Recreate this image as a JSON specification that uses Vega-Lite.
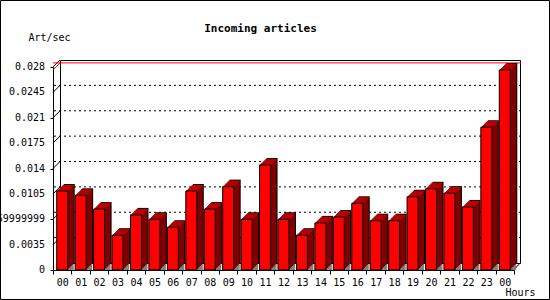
{
  "$schema": "https://vega.github.io/schema/vega-lite/v6.json",
  "width": 461,
  "height": 203,
  "autosize": {"type": "none"},
  "padding": {"left": 53, "top": 67, "right": 36, "bottom": 30},
  "background": "white",
  "title": {"text": "Incoming articles", "font": "DejaVu Sans Mono", "fontSize": 11, "fontWeight": "bold", "color": "#000", "anchor": "middle", "frame": "group", "dx": -23, "offset": 0, "dy": 34},
  "config": {"view": {"stroke": null}},
  "datasets": {
    "bars": [
      {"idx": 0, "hour": "00", "value": 0.0109},
      {"idx": 1, "hour": "01", "value": 0.0103},
      {"idx": 2, "hour": "02", "value": 0.0084},
      {"idx": 3, "hour": "03", "value": 0.0048},
      {"idx": 4, "hour": "04", "value": 0.0076},
      {"idx": 5, "hour": "05", "value": 0.0070},
      {"idx": 6, "hour": "06", "value": 0.0059},
      {"idx": 7, "hour": "07", "value": 0.0109},
      {"idx": 8, "hour": "08", "value": 0.0084},
      {"idx": 9, "hour": "09", "value": 0.0115},
      {"idx": 10, "hour": "10", "value": 0.0070},
      {"idx": 11, "hour": "11", "value": 0.0145},
      {"idx": 12, "hour": "12", "value": 0.0070},
      {"idx": 13, "hour": "13", "value": 0.0048},
      {"idx": 14, "hour": "14", "value": 0.0065},
      {"idx": 15, "hour": "15", "value": 0.0073},
      {"idx": 16, "hour": "16", "value": 0.0092},
      {"idx": 17, "hour": "17", "value": 0.0068},
      {"idx": 18, "hour": "18", "value": 0.0068},
      {"idx": 19, "hour": "19", "value": 0.0101},
      {"idx": 20, "hour": "20", "value": 0.0112},
      {"idx": 21, "hour": "21", "value": 0.0106},
      {"idx": 22, "hour": "22", "value": 0.0087},
      {"idx": 23, "hour": "23", "value": 0.0197},
      {"idx": 24, "hour": "00", "value": 0.0276}
    ],
    "grid": [{"v": 0.0035}, {"v": 0.007}, {"v": 0.0105}, {"v": 0.014}, {"v": 0.0175}, {"v": 0.021}, {"v": 0.0245}],
    "ticks": [
      {"v": 0, "label": "0"},
      {"v": 0.0035, "label": "0.0035"},
      {"v": 0.007, "label": "0.0069999999"},
      {"v": 0.0105, "label": "0.0105"},
      {"v": 0.014, "label": "0.014"},
      {"v": 0.0175, "label": "0.0175"},
      {"v": 0.021, "label": "0.021"},
      {"v": 0.0245, "label": "0.0245"},
      {"v": 0.028, "label": "0.028"}
    ],
    "one": [{}]
  },
  "data": {"name": "bars"},
  "layer": [
    {
      "data": {"name": "one"},
      "mark": {"type": "rect", "fill": null, "stroke": "#000", "strokeWidth": 1, "xOffset": -52.5, "x2Offset": 35.5, "yOffset": -66.5, "y2Offset": 29.5},
      "encoding": {
        "x": {"value": 0}, "x2": {"value": {"expr": "width"}},
        "y": {"value": 0}, "y2": {"value": {"expr": "height"}}
      }
    },
    {
      "data": {"name": "one"},
      "mark": {"type": "rect", "fill": "#ffffff", "stroke": "#000", "strokeWidth": 1, "xOffset": 7.5, "x2Offset": 6.5, "yOffset": -6.5, "y2Offset": -6.5},
      "encoding": {
        "x": {"value": 0}, "x2": {"value": {"expr": "width"}},
        "y": {"value": 0}, "y2": {"value": {"expr": "height"}}
      }
    },
    {
      "data": {"name": "grid"},
      "mark": {"type": "rule", "stroke": "#000", "strokeWidth": 1, "strokeDash": [2, 3], "xOffset": 7, "x2Offset": 6, "yOffset": -7},
      "encoding": {
        "y": {
          "field": "v", "type": "quantitative",
          "scale": {"domain": [0, 0.028], "nice": false},
          "axis": {
            "values": [0, 0.0035, 0.007, 0.0105, 0.014, 0.0175, 0.021, 0.0245, 0.028],
            "labels": false,
            "tickSize": 3, "tickColor": "#000", "domainColor": "#000", "grid": false,
            "title": "Art/sec", "titleFont": "DejaVu Sans Mono", "titleFontSize": 10, "titleFontWeight": "normal", "titleColor": "#000",
            "titleAngle": 0, "titleAlign": "left", "titleBaseline": "middle", "titleX": -25, "titleY": -30
          }
        }
      }
    },
    {
      "data": {"name": "ticks"},
      "mark": {"type": "text", "font": "DejaVu Sans Mono", "fontSize": 10, "fill": "#000", "align": "right", "baseline": "middle", "dx": -8},
      "encoding": {
        "x": {"value": 0},
        "y": {"field": "v", "type": "quantitative"},
        "text": {"field": "label"}
      }
    },
    {
      "data": {"name": "ticks"},
      "transform": [{"filter": "datum.v > 0"}],
      "mark": {"type": "rule", "stroke": "#000", "strokeWidth": 1, "x2Offset": 7, "y2Offset": -7},
      "encoding": {
        "x": {"value": 0}, "x2": {"value": 0},
        "y": {"field": "v", "type": "quantitative"}, "y2": {"field": "v"}
      }
    },
    {
      "data": {"name": "one"},
      "mark": {"type": "rule", "stroke": "#000", "strokeWidth": 1, "x2Offset": 6, "y2Offset": -7},
      "encoding": {
        "x": {"value": {"expr": "width"}}, "x2": {"value": {"expr": "width"}},
        "y": {"value": {"expr": "height"}}, "y2": {"value": {"expr": "height"}}
      }
    },
    {
      "mark": {"type": "rule", "stroke": "#ff0000", "strokeWidth": 1, "xOffset": 7, "x2Offset": 6, "yOffset": -7},
      "encoding": {"y": {"aggregate": "max", "field": "value", "type": "quantitative"}}
    },
    {
      "mark": {"type": "rule", "stroke": "#ff0000", "strokeWidth": 1, "x2Offset": 7, "y2Offset": -7},
      "encoding": {
        "x": {"value": 0}, "x2": {"value": 0},
        "y": {"aggregate": "max", "field": "value", "type": "quantitative"}, "y2": {"aggregate": "max", "field": "value"}
      }
    },
    {
      "mark": {"type": "bar", "width": 6, "fill": "#808080", "xOffset": 8.5, "yOffset": -6},
      "encoding": {
        "x": {
          "field": "idx", "type": "ordinal",
          "scale": {"paddingInner": 0, "paddingOuter": 0},
          "axis": {
            "labelExpr": "isValid(datum.value) ? (datum.value == 24 ? '00' : (datum.value < 10 ? '0' + datum.value : '' + datum.value)) : ''",
            "labelAngle": 0, "labelFont": "DejaVu Sans Mono", "labelFontSize": 10, "labelColor": "#000",
            "labelPadding": 3, "tickBand": "extent", "tickSize": 4, "tickColor": "#000", "domainColor": "#000",
            "title": "Hours", "titleFont": "DejaVu Sans Mono", "titleFontSize": 10, "titleFontWeight": "normal", "titleColor": "#000",
            "titleAlign": "left", "titleBaseline": "middle", "titleX": 452, "titleY": 22
          }
        },
        "y": {"datum": 0, "type": "quantitative"},
        "y2": {"datum": 0}
      }
    },
    {
      "mark": {"type": "bar", "width": 11, "fill": "#000000", "xOffset": 7, "yOffset": -7, "y2Offset": -7},
      "encoding": {"x": {"field": "idx", "type": "ordinal"}, "y": {"field": "value", "type": "quantitative"}, "y2": {"datum": 0}}
    },
    {
      "mark": {"type": "bar", "width": 11, "fill": "#800000", "xOffset": 6, "yOffset": -6, "y2Offset": -6},
      "encoding": {"x": {"field": "idx", "type": "ordinal"}, "y": {"field": "value", "type": "quantitative"}, "y2": {"datum": 0}}
    },
    {
      "mark": {"type": "bar", "width": 11, "fill": "#800000", "xOffset": 5, "yOffset": -5, "y2Offset": -5},
      "encoding": {"x": {"field": "idx", "type": "ordinal"}, "y": {"field": "value", "type": "quantitative"}, "y2": {"datum": 0}}
    },
    {
      "mark": {"type": "bar", "width": 11, "fill": "#800000", "xOffset": 4, "yOffset": -4, "y2Offset": -4},
      "encoding": {"x": {"field": "idx", "type": "ordinal"}, "y": {"field": "value", "type": "quantitative"}, "y2": {"datum": 0}}
    },
    {
      "mark": {"type": "bar", "width": 11, "fill": "#800000", "xOffset": 3, "yOffset": -3, "y2Offset": -3},
      "encoding": {"x": {"field": "idx", "type": "ordinal"}, "y": {"field": "value", "type": "quantitative"}, "y2": {"datum": 0}}
    },
    {
      "mark": {"type": "bar", "width": 11, "fill": "#800000", "xOffset": 2, "yOffset": -2, "y2Offset": -2},
      "encoding": {"x": {"field": "idx", "type": "ordinal"}, "y": {"field": "value", "type": "quantitative"}, "y2": {"datum": 0}}
    },
    {
      "mark": {"type": "bar", "width": 11, "fill": "#800000", "xOffset": 1, "yOffset": -1, "y2Offset": -1},
      "encoding": {"x": {"field": "idx", "type": "ordinal"}, "y": {"field": "value", "type": "quantitative"}, "y2": {"datum": 0}}
    },
    {
      "mark": {"type": "bar", "width": 11, "fill": "#c00000", "xOffset": 6, "yOffset": -6, "y2Offset": -5},
      "encoding": {"x": {"field": "idx", "type": "ordinal"}, "y": {"field": "value", "type": "quantitative"}, "y2": {"field": "value"}}
    },
    {
      "mark": {"type": "bar", "width": 11, "fill": "#c00000", "xOffset": 5, "yOffset": -5, "y2Offset": -4},
      "encoding": {"x": {"field": "idx", "type": "ordinal"}, "y": {"field": "value", "type": "quantitative"}, "y2": {"field": "value"}}
    },
    {
      "mark": {"type": "bar", "width": 11, "fill": "#c00000", "xOffset": 4, "yOffset": -4, "y2Offset": -3},
      "encoding": {"x": {"field": "idx", "type": "ordinal"}, "y": {"field": "value", "type": "quantitative"}, "y2": {"field": "value"}}
    },
    {
      "mark": {"type": "bar", "width": 11, "fill": "#c00000", "xOffset": 3, "yOffset": -3, "y2Offset": -2},
      "encoding": {"x": {"field": "idx", "type": "ordinal"}, "y": {"field": "value", "type": "quantitative"}, "y2": {"field": "value"}}
    },
    {
      "mark": {"type": "bar", "width": 11, "fill": "#c00000", "xOffset": 2, "yOffset": -2, "y2Offset": -1},
      "encoding": {"x": {"field": "idx", "type": "ordinal"}, "y": {"field": "value", "type": "quantitative"}, "y2": {"field": "value"}}
    },
    {
      "mark": {"type": "bar", "width": 11, "fill": "#c00000", "xOffset": 1, "yOffset": -1, "y2Offset": 0},
      "encoding": {"x": {"field": "idx", "type": "ordinal"}, "y": {"field": "value", "type": "quantitative"}, "y2": {"field": "value"}}
    },
    {
      "mark": {"type": "bar", "width": 11, "fill": "#ff0000", "stroke": "#000000", "strokeWidth": 1},
      "encoding": {
        "x": {"field": "idx", "type": "ordinal"},
        "y": {"field": "value", "type": "quantitative"},
        "y2": {"datum": 0}
      }
    }
  ]
}
